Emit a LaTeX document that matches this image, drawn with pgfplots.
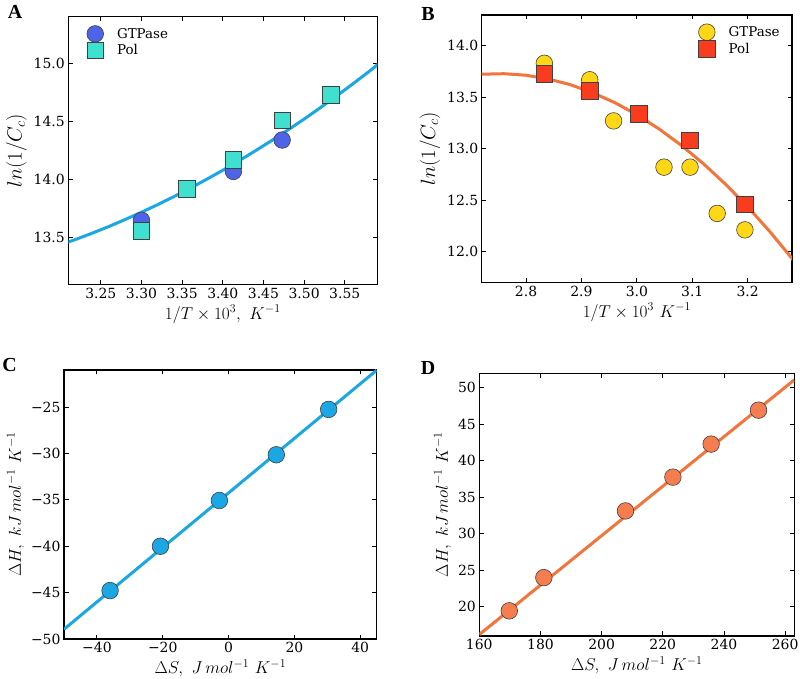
\documentclass[border=0pt]{standalone}
\usepackage{pgfplots}
\pgfplotsset{compat=1.18}
\usepackage{fontspec}
\setmainfont{DejaVu Serif}
\newfontfamily\letterfont{Liberation Serif}

\definecolor{gtpA}{RGB}{77,99,232}
\definecolor{polA}{RGB}{64,224,208}
\definecolor{skyline}{RGB}{27,167,227}
\definecolor{gtpB}{RGB}{255,215,20}
\definecolor{polB}{RGB}{250,60,30}
\definecolor{coral}{RGB}{243,117,60}
\definecolor{coraldot}{RGB}{245,125,80}

\pgfplotsset{
  panel/.style={
    scale only axis, anchor=south west,
    axis line style={line width=1.1bp},
    every tick/.style={black, line width=0.9bp},
    major tick length=4.5bp,
    tick label style={font=\fontsize{14}{14}\selectfont, black},
    label style={font=\fontsize{18}{18}\selectfont},
    /pgf/number format/assume math mode=true,
    legend style={draw=none, fill=none, font=\fontsize{13.5}{15}\selectfont},
    legend cell align=left,
  },
  dot/.style={only marks, mark=*, mark size=8.3bp, mark options={draw=black!75, line width=0.6bp, fill=#1}},
  sq/.style={only marks, mark=square*, mark size=8.3bp, mark options={draw=black!75, line width=0.6bp, fill=#1}},
  fit/.style={#1, line width=3bp, no marks, forget plot},
}

\begin{document}
\begin{tikzpicture}
\path[use as bounding box] (0,0) rectangle (800bp,679bp);

% A
\begin{axis}[panel, at={(68.3bp,394.7bp)}, width=309bp, height=267.6bp,
  xmin=3.21, xmax=3.59, ymin=13.1, ymax=15.4,
  xtick={3.25,3.30,...,3.56}, ytick={13.5,14.0,14.5,15.0},
  xticklabel style={/pgf/number format/.cd,fixed,fixed zerofill,precision=2},
  yticklabel style={/pgf/number format/.cd,fixed,fixed zerofill,precision=1},
  xlabel={$1/T\times 10^3,\ K^{-1}$}, ylabel={$ln(1/C_c)$},
  ylabel style={font=\fontsize{20}{20}\selectfont},
  legend style={at={(0.05,0.975)}, anchor=north west}]
\addplot[dot=gtpA, color=gtpA] coordinates {(3.300,13.65) (3.413,14.07) (3.473,14.34)};
\addlegendentry{\hspace{11.5bp}GTPase}
\addplot[sq=polA, color=polA] coordinates {(3.300,13.56) (3.356,13.92) (3.413,14.17) (3.473,14.51) (3.533,14.73)};
\addlegendentry{\hspace{11.5bp}Pol}
\addplot[fit=skyline] coordinates {
(3.20,13.439) (3.22,13.488) (3.24,13.541) (3.26,13.597) (3.28,13.657)
(3.30,13.719) (3.32,13.785) (3.34,13.854) (3.36,13.926) (3.38,14.002)
(3.40,14.080) (3.42,14.162) (3.44,14.247) (3.46,14.335) (3.48,14.426)
(3.50,14.520) (3.52,14.618) (3.54,14.719) (3.56,14.823) (3.58,14.930) (3.60,15.041)};
\end{axis}

% B
\begin{axis}[panel, at={(481.7bp,396.7bp)}, width=310.3bp, height=267.3bp,
  xmin=2.72, xmax=3.28, ymin=11.7, ymax=14.3,
  xtick={2.8,2.9,3.0,3.1,3.2}, ytick={12.0,12.5,13.0,13.5,14.0},
  xticklabel style={/pgf/number format/.cd,fixed,fixed zerofill,precision=1},
  yticklabel style={/pgf/number format/.cd,fixed,fixed zerofill,precision=1},
  xlabel={$1/T\times 10^3\ K^{-1}$}, ylabel={$ln(1/C_c)$},
  ylabel style={font=\fontsize{20}{20}\selectfont},
  legend style={at={(0.977,0.975)}, anchor=north east}]
\addplot[dot=gtpB, color=gtpB] coordinates {(2.833,13.83) (2.915,13.67) (2.958,13.27) (3.049,12.82) (3.096,12.82) (3.145,12.37) (3.195,12.21)};
\addlegendentry{\hspace{11.5bp}GTPase}
\addplot[sq=polB, color=polB] coordinates {(2.833,13.73) (2.915,13.56) (3.003,13.34) (3.096,13.08) (3.195,12.46)};
\addlegendentry{\hspace{11.5bp}Pol}
\addplot[fit=coral] coordinates {
(2.70,13.714) (2.72,13.724) (2.76,13.729) (2.80,13.714) (2.84,13.678)
(2.88,13.622) (2.92,13.545) (2.96,13.448) (3.00,13.330) (3.04,13.192)
(3.08,13.033) (3.12,12.854) (3.16,12.654) (3.20,12.434) (3.24,12.193)
(3.28,11.932) (3.30,11.794)};
\end{axis}

% C
\begin{axis}[panel, at={(64bp,40bp)}, width=312.7bp, height=269bp,
  xmin=-50, xmax=45, ymin=-50, ymax=-21,
  xtick={-40,-20,0,20,40}, xticklabels={−40,−20,0,20,40},
  ytick={-50,-45,-40,-35,-30,-25}, yticklabels={−50,−45,−40,−35,−30,−25},
  xlabel={$\Delta S,\ J\,mol^{-1}\ K^{-1}$}, ylabel={$\Delta H,\ kJ\,mol^{-1}\ K^{-1}$}]
\addplot[dot=skyline, color=skyline] coordinates {(-36.0,-44.78) (-20.7,-40.0) (-2.8,-35.07) (14.5,-30.14) (30.4,-25.25)};
\addplot[fit=skyline] coordinates {(-50,-48.95) (45,-21.02)};
\end{axis}

% D
\begin{axis}[panel, at={(479.3bp,43bp)}, width=315bp, height=262.7bp,
  xmin=160, xmax=263, ymin=16, ymax=52,
  xtick={160,180,...,260}, ytick={20,25,...,50},
  xlabel={$\Delta S,\ J\,mol^{-1}\ K^{-1}$}, ylabel={$\Delta H,\ kJ\,mol^{-1}\ K^{-1}$}]
\addplot[dot=coraldot, color=coraldot] coordinates {(169.8,19.45) (181.1,24.0) (207.8,33.14) (223.3,37.77) (235.8,42.3) (251.3,46.95)};
\addplot[fit=coral] coordinates {(160,16.2) (263,51.1)};
\end{axis}

\node[font=\letterfont\fontsize{20}{20}\selectfont\bfseries] at (15bp,667bp) {A};
\node[font=\letterfont\fontsize{20}{20}\selectfont\bfseries] at (428bp,665bp) {B};
\node[font=\letterfont\fontsize{20}{20}\selectfont\bfseries] at (9.5bp,314bp) {C};
\node[font=\letterfont\fontsize{20}{20}\selectfont\bfseries] at (428bp,311bp) {D};
\end{tikzpicture}
\end{document}
